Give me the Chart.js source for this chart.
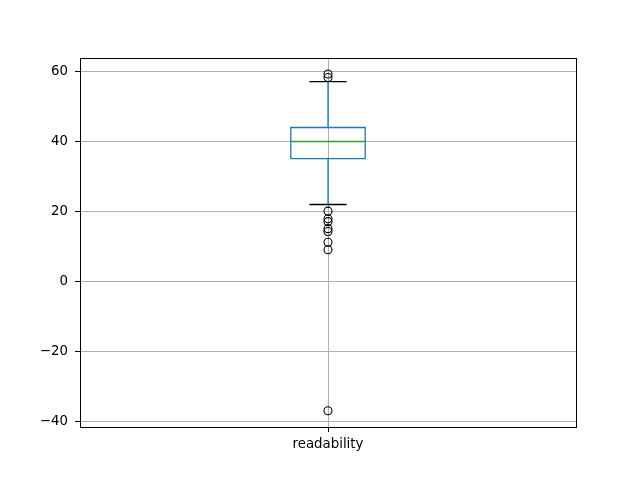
<!DOCTYPE html>
<html>
<head>
<meta charset="utf-8">
<script src="https://cdn.jsdelivr.net/npm/chart.js@4"></script>
<style>
  html, body { margin: 0; padding: 0; background: #fff; }
  #wrap { width: 640px; height: 480px; }
</style>
</head>
<body>
<div id="wrap"><canvas id="boxChart" width="640" height="480"></canvas></div>
<script>
// datos
const categories = ["readability"];
const q1 = [35.1];
const medians = [40.0];
const q3 = [44.0];
const whiskerLow = [22.0];
const whiskerHigh = [57.1];
const fliers = [[59.3, 58.3, 20.1, 17.9, 17.1, 15.1, 14.3, 11.2, 9.1, -36.9]];
const yTicks = [-40, -20, 0, 20, 40, 60];

const boxHalf = 0.075;   // mitad del ancho de la caja
const capHalf = 0.0375;  // mitad del ancho del bigote

let datasets = [];
categories.forEach((cat, i) => {
    let x = i + 1;
    let line = (pts, color) => ({
        data: pts,
        showLine: true,
        borderColor: color,
        borderWidth: 1.3,
        pointRadius: 0,
        fill: false
    });
    // caja
    datasets.push(line([
        {x: x - boxHalf, y: q1[i]}, {x: x + boxHalf, y: q1[i]},
        {x: x + boxHalf, y: q3[i]}, {x: x - boxHalf, y: q3[i]},
        {x: x - boxHalf, y: q1[i]}
    ], "#1f77b4"));
    // mediana
    datasets.push(line([{x: x - boxHalf, y: medians[i]}, {x: x + boxHalf, y: medians[i]}], "#2ca02c"));
    // bigotes
    datasets.push(line([{x: x, y: q1[i]}, {x: x, y: whiskerLow[i]}], "#1f77b4"));
    datasets.push(line([{x: x, y: q3[i]}, {x: x, y: whiskerHigh[i]}], "#1f77b4"));
    datasets.push(line([{x: x - capHalf, y: whiskerLow[i]}, {x: x + capHalf, y: whiskerLow[i]}], "#000"));
    datasets.push(line([{x: x - capHalf, y: whiskerHigh[i]}, {x: x + capHalf, y: whiskerHigh[i]}], "#000"));
    // outliers
    datasets.push({
        data: fliers[i].map(v => ({x: x, y: v})),
        showLine: false,
        pointStyle: "circle",
        pointRadius: 4,
        pointBorderWidth: 1.1,
        pointBorderColor: "#000",
        pointBackgroundColor: "rgba(0,0,0,0)"
    });
});

// marco negro alrededor del area
const framePlugin = {
    id: "frame",
    afterDraw(chart) {
        let a = chart.chartArea, c = chart.ctx;
        c.save();
        c.strokeStyle = "#000";
        c.lineWidth = 1;
        c.strokeRect(Math.round(a.left) + 0.5, Math.round(a.top) + 0.5,
                     Math.round(a.right - a.left), Math.round(a.bottom - a.top));
        c.restore();
    }
};

let ctx = document.getElementById("boxChart").getContext("2d");
window.myChart = new Chart(ctx, {
    type: "scatter",
    data: { datasets: datasets },
    plugins: [framePlugin],
    options: {
        responsive: false,
        animation: false,
        layout: { padding: { left: 0, top: 58, right: 64, bottom: 0 } },
        plugins: { legend: { display: false }, tooltip: { enabled: false } },
        scales: {
            x: {
                type: "linear",
                min: 0.5,
                max: categories.length + 0.5,
                afterBuildTicks: s => { s.ticks = categories.map((c, i) => ({value: i + 1})); },
                afterFit: s => { s.height = 53; },
                ticks: {
                    callback: v => categories[Math.round(v) - 1] || "",
                    color: "#000",
                    font: { family: "DejaVu Sans", size: 13.33 },
                    padding: 5
                },
                grid: { color: "#b0b0b0", lineWidth: 1, tickColor: "#000", tickLength: 5 },
                border: { color: "#000" }
            },
            y: {
                min: -41.55,
                max: 63.85,
                afterBuildTicks: s => { s.ticks = yTicks.map(v => ({value: v})); },
                afterFit: s => { s.width = 80; },
                ticks: {
                    callback: v => v < 0 ? "\u2212" + Math.abs(v) : String(v),
                    color: "#000",
                    font: { family: "DejaVu Sans", size: 13.33 },
                    padding: 7
                },
                grid: { color: "#b0b0b0", lineWidth: 1, tickColor: "#000", tickLength: 5 },
                border: { color: "#000" }
            }
        }
    }
});
</script>
</body>
</html>
